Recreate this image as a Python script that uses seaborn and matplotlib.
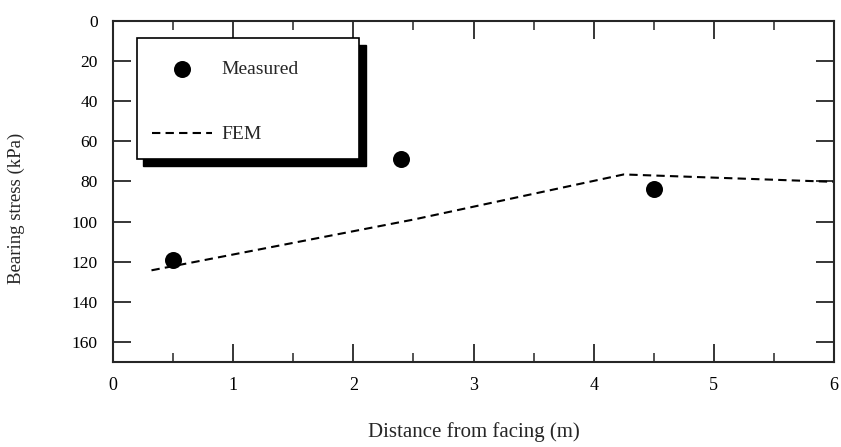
import matplotlib
matplotlib.use("Agg")
import matplotlib.pyplot as plt
import seaborn as sns
import pandas as pd
from matplotlib.patches import Rectangle
from matplotlib.ticker import MultipleLocator

measured_x = [0.5, 2.4, 4.5]
measured_y = [119, 69, 84]
fem_x = [0.32, 2.5, 4.25, 6.0]
fem_y = [124.3, 99, 76.5, 80.2]
x_ticks = [0, 1, 2, 3, 4, 5, 6]
y_ticks = [0, 20, 40, 60, 80, 100, 120, 140, 160]

sns.set_style("ticks")
plt.rcParams['font.family'] = ['Liberation Serif', 'DejaVu Serif']

fig = plt.figure(figsize=(8.41, 4.47), dpi=100)
ax = fig.add_axes([0.1344, 0.1902, 0.8573, 0.7628])

df_m = pd.DataFrame({"x": measured_x, "y": measured_y})
df_f = pd.DataFrame({"x": fem_x, "y": fem_y})

sns.lineplot(data=df_f, x="x", y="y", ax=ax, color="black", lw=1.5,
             linestyle=(0, (4, 2.5)), label="FEM", sort=False)
sns.scatterplot(data=df_m, x="x", y="y", ax=ax, color="black", s=150,
                edgecolor="black", linewidth=0, label="Measured", zorder=3)

ax.set_xlim(0, 6)
ax.set_ylim(170, 0)
ax.set_xticks(x_ticks)
ax.set_yticks(y_ticks)
ax.xaxis.set_minor_locator(MultipleLocator(0.5))
for s in ax.spines.values():
    s.set_linewidth(1.5)
    s.set_visible(True)
ax.tick_params(axis='both', which='major', direction='in', length=13, width=1.1,
               top=True, right=True, labelcolor='black', color='black')
ax.tick_params(axis='x', which='minor', direction='in', length=6.5, width=1.1,
               top=True, bottom=True)
ax.tick_params(axis='x', which='major', labelsize=13, pad=11)
ax.tick_params(axis='y', which='major', labelsize=12.5, pad=11)

ax.set_xlabel("Distance from facing (m)", fontsize=15)
ax.set_ylabel("Bearing stress (kPa)", fontsize=13.5)
ax.yaxis.set_label_coords(-0.122, 0.45)
ax.xaxis.set_label_coords(0.5, -0.175)

# legend box with shadow
x0, y0, w, h = 0.0329, 0.594, 0.3087, 0.355
ax.add_patch(Rectangle((x0 + 0.009, y0 - 0.019), w, h, transform=ax.transAxes,
                       facecolor='black', edgecolor='black', zorder=5, clip_on=False))
ax.add_patch(Rectangle((x0, y0), w, h, transform=ax.transAxes,
                       facecolor='white', edgecolor='black', lw=1.2, zorder=6, clip_on=False))

handles, labels = ax.get_legend_handles_labels()
order = [labels.index("Measured"), labels.index("FEM")]
leg = ax.legend([handles[i] for i in order], [labels[i] for i in order],
                loc='center left', bbox_to_anchor=(0.0297, y0 + h / 2 - 0.009),
                bbox_transform=ax.transAxes, frameon=False, fontsize=14,
                handlelength=3.1, handletextpad=0.45, labelspacing=2.45,
                markerscale=1.0)
leg.set_zorder(7)

fig.savefig("out.png", dpi=100)
